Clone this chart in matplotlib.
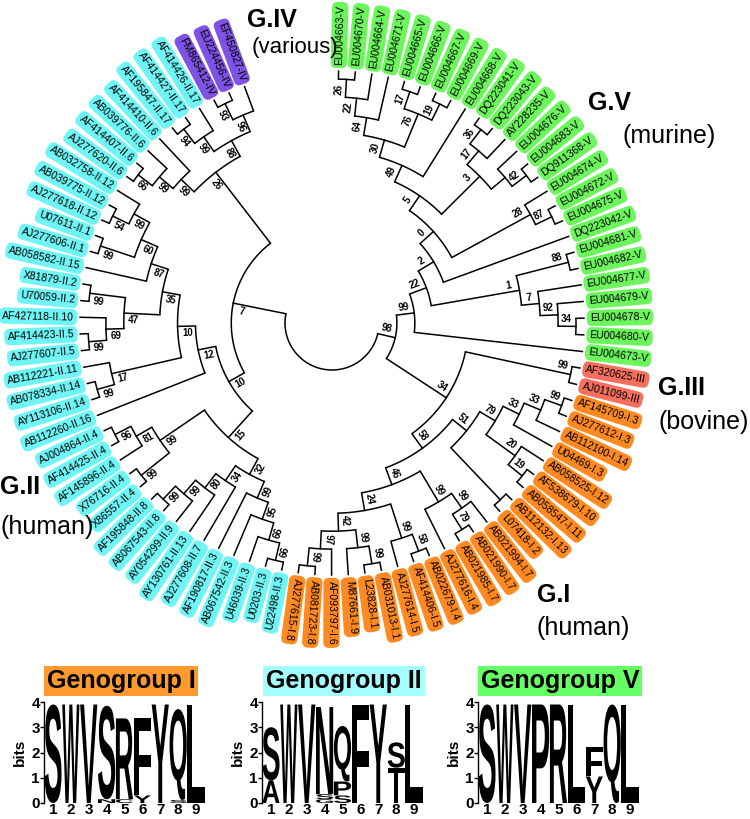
import matplotlib
matplotlib.use('Agg')
import matplotlib.pyplot as plt
import numpy as np
from matplotlib.textpath import TextPath
from matplotlib.patches import PathPatch
from matplotlib.font_manager import FontProperties
from matplotlib.transforms import Affine2D

plt.rcParams['font.family'] = ['Liberation Sans', 'DejaVu Sans']

# ---------------- tree data (newick pieces, clockwise from the top) ----------------
v_top = ("(((((EU004663-V,EU004670-V)26,EU004664-V)22,EU004671-V)64,"
         "((EU004665-V,EU004666-V)17,(EU004667-V,EU004669-V)19)76)30,EU004668-V)49")
v_mid = "(((DQ223041-V,DQ223043-V)36,AY228235-V)17,(EU004676-V,(EU004683-V,DQ911368-V)42))3"
v_28 = "(EU004674-V,(EU004672-V,EU004675-V)87)28"
v_1 = "((EU004681-V,EU004682-V)88,(EU004677-V,(EU004679-V,(EU004678-V,EU004680-V)34)92)7)1"
g3 = "(AF320625-III,AJ011099-III)99"
g1_top = ("((((AF145709-I.3,AJ277612-I.3)99,AB112100-I.14)33,U04469-I.3)33,"
          "(AB058525-I.12,(AF538679-I.10,AB058547-I.11)19)20)79")
g1_d = "((AB021994-I.7,(AB021990-I.7,AB021985-I.7)79)99,AJ277616-I.4)99"
g1_c = "((AB022679-I.4,AF414406-I.5)58,AJ277614-I.5)99"
g1_a = "(((AB031013-I.1,L23828-I.1)99,M87661-I.9)99,(AF093797-I.6,(AB081723-I.8,AJ277615-I.8)99)97)42"
g2_h = "((((U22498-II.3,U0203-II.3)66,U46039-II.3)66,AB067542-II.3)95,AF190817-II.3)99"
g2_i = "(AJ277608-II.7,(AY130761-II.13,(AY054299-II.9,(AB067543-II.8,AF195848-II.8)99)99)80)34"
g2_j = "((X86557-II.4,X76716-II.4)99,(AF145896-II.4,(AF414425-II.4,AJ004864-II.4)96)81)99"
g2_l = "((AY113106-II.14,AB078334-II.14)99,AB112221-II.11)17"
g2_m = "(((AJ277607-II.5,AF414423-II.5)99,AF427118-II.10)69,(U70059-II.2,X81879-II.2)99)47"
g2_q = ("(AB058582-II.15,((AJ277606-II.1,U07611-II.1)99,"
        "((AJ277618-II.12,AB039775-II.12)54,AB032758-II.12)99)60)87")
g2_s = ("((((AJ277620-II.6,AF414407-II.6)66,AB039776-II.6)99,AF414410-II.6)99,"
        "(((AF195847-II.17,AF414427-II.17)94,AF414426-II.17)99,"
        "((FM865412-IV,EU224456-IV)93,EF450827-IV)96)88)26")

gv = f"((((({v_top},{v_mid})5,{v_28})0,DQ223042-V)2,{v_1})22,EU004673-V)99"
g1 = f"(({g1_top},(AB112132-I.13,L07418-I.2))51,({g1_d},({g1_c},{g1_a})24)46)58"
right = f"({gv},({g3},{g1})34)98"
left = f"(((({g2_h},{g2_i})32,{g2_j})15,(AB112260-II.16,({g2_l},({g2_m},{g2_q})35)10)12)10,{g2_s})7"
newick = f"({right},{left})"

group_colors = {'V': '#6cf55c', 'III': '#f7705f', 'I': '#ff8a22', 'II': '#6ff5f5', 'IV': '#7d52e4'}
group_names = ['G.IV', 'G.V', 'G.III', 'G.II', 'G.I']
group_hosts = ['(various)', '(murine)', '(bovine)', '(human)', '(human)']
group_pos = [(247, 20), (588, 103), (658, 388), (0, 487), (537, 595)]
host_pos = [(252, 48), (622, 136), (659, 422), (0, 527), (537, 628)]
host_size = [16, 18, 18, 18, 18]

# ---------------- logo data (stacks bottom -> top, heights in bits) ----------------
logo_titles = ['Genogroup I', 'Genogroup II', 'Genogroup V']
logo_colors = ['#ff9a2e', '#a3ffff', '#66ff66']
logo_I = [[('S', 3.9)], [('W', 3.9)], [('V', 3.9)], [('N', 0.15), ('S', 3.7)],
          [('C', 0.15), ('R', 3.2)], [('Y', 0.3), ('F', 3.05)], [('Y', 3.9)],
          [('S', 0.12), ('Q', 3.6)], [('L', 3.9)]]
logo_II = [[('A', 0.9), ('S', 2.1)], [('W', 3.9)], [('V', 3.9)],
           [('G', 0.15), ('S', 0.2), ('N', 3.45)], [('S', 0.3), ('P', 0.55), ('Q', 2.2)],
           [('F', 3.9)], [('Y', 3.9)], [('T', 1.4), ('S', 1.0)], [('L', 3.9)]]
logo_V = [[('S', 3.9)], [('W', 3.9)], [('V', 3.9)], [('P', 3.9)], [('R', 3.9)],
          [('L', 3.9)], [('Y', 1.05), ('F', 1.15)], [('Q', 3.9)], [('L', 3.9)]]
logos = [logo_I, logo_II, logo_V]


def parse(s, i=0):
    if s[i] == '(':
        kids = []
        i += 1
        while True:
            kid, i = parse(s, i)
            kids.append(kid)
            if s[i] == ',':
                i += 1
                continue
            i += 1
            break
        j = i
        while j < len(s) and s[j] not in ',)':
            j += 1
        return {'children': kids, 'label': s[i:j]}, j
    j = i
    while j < len(s) and s[j] not in ',)':
        j += 1
    return {'name': s[i:j]}, j


def group_of(name):
    suf = name.split('-')[-1]
    if '.' in suf:
        return suf.split('.')[0]
    return suf


root, _ = parse(newick)

CX, CY = 332, 323
TH0, STEP = 88.5, 3.8
R_TIP, R_CHERRY, R_ROOT = 252, 244, 47
leaves = []


def layout(node):
    if 'name' in node:
        node['t'] = TH0 - STEP * len(leaves)
        node['h'] = 0
        leaves.append(node)
        return
    for c in node['children']:
        layout(c)
    node['h'] = max(c['h'] for c in node['children']) + 1
    node['t'] = (node['children'][0]['t'] + node['children'][-1]['t']) / 2


layout(root)
H = root['h']


def rad(node):
    if 'name' in node:
        return R_TIP
    return R_CHERRY - (R_CHERRY - R_ROOT) * (node['h'] - 1) / (H - 1)


def xy(r, t):
    a = np.radians(t)
    return CX + r * np.cos(a), CY - r * np.sin(a)


def readable(t):
    tn = (t + 180) % 360 - 180
    if -99.5 < tn <= 91:
        return tn, False
    return tn + 180, True


fig = plt.figure(figsize=(7.5, 8.19), dpi=100)
ax = fig.add_axes([0, 0, 1, 1])
ax.set_xlim(0, 750)
ax.set_ylim(819, 0)
ax.axis('off')

internal = []


def draw(node):
    if 'name' in node:
        return
    internal.append(node)
    r = rad(node)
    ts = np.linspace(node['children'][0]['t'], node['children'][-1]['t'], 60)
    px, py = xy(r, ts)
    ax.plot(px, py, color='black', lw=1.1, solid_capstyle='butt')
    for c in node['children']:
        x0, y0 = xy(r, c['t'])
        x1, y1 = xy(rad(c), c['t'])
        ax.plot([x0, x1], [y0, y1], color='black', lw=1.1)
        draw(c)


draw(root)

# leaf labels
for lf in leaves:
    rot, flip = readable(lf['t'])
    x, y = xy(R_TIP + 6, lf['t'])
    ax.text(x, y, lf['name'], fontsize=7.6, rotation=rot, rotation_mode='anchor',
            ha='right' if flip else 'left', va='center', color='black',
            bbox=dict(boxstyle='round,pad=0.3,rounding_size=0.55',
                      fc=group_colors[group_of(lf['name'])], ec='none'))

# bootstrap values
for nd in internal:
    if not nd['label']:
        continue
    t = nd['t']
    r = rad(nd) - 10
    a = np.radians(t)
    x, y = xy(r, t)
    x += -np.sin(a) * 7
    y += -np.cos(a) * 7
    rot, _ = readable(t)
    ax.text(x, y, nd['label'], fontsize=7, fontweight='bold', rotation=rot,
            rotation_mode='anchor', ha='center', va='center')

# group labels
for name, host, (gx, gy), (hx, hy), hs in zip(group_names, group_hosts, group_pos, host_pos, host_size):
    ax.text(gx, gy, name, fontsize=18, fontweight='bold', ha='left', va='center')
    ax.text(hx, hy, host, fontsize=hs, ha='left', va='center')

# ---------------- sequence logos ----------------
fp = FontProperties(family='Liberation Sans', weight='bold')
logo_left = [44, 262, 478]
logo_w = 161
title_cx = [121, 344, 560]


def letter(lax, ch, x, y0, h, w=0.96):
    tp = TextPath((0, 0), ch, size=1, prop=fp)
    bb = tp.get_extents()
    tr = Affine2D().translate(-bb.x0, -bb.y0).scale(w / bb.width, h / bb.height).translate(x - w / 2, y0)
    lax.add_patch(PathPatch(tr.transform_path(tp), fc='black', ec='none', lw=0))


for k, logo in enumerate(logos):
    ax.text(title_cx[k], 681, logo_titles[k], fontsize=18, fontweight='bold', ha='center', va='center',
            bbox=dict(boxstyle='square,pad=0.12', fc=logo_colors[k], ec='none'))
    lax = fig.add_axes([logo_left[k] / 750, (819 - 803) / 819, logo_w / 750, 101 / 819])
    lax.set_xlim(0.5, 9.5)
    lax.set_ylim(0, 4)
    for pos, stack in enumerate(logo, start=1):
        y0 = 0
        for ch, h in stack:
            letter(lax, ch, pos, y0, h)
            y0 += h
    for sp in ['top', 'right', 'bottom']:
        lax.spines[sp].set_visible(False)
    lax.spines['left'].set_linewidth(1.0)
    lax.set_xticks(range(1, 10))
    lax.set_xticklabels([str(i) for i in range(1, 10)], fontsize=11, fontweight='bold')
    lax.tick_params(axis='x', length=0, pad=0)
    lax.set_yticks(range(0, 5))
    lax.set_yticklabels([str(i) for i in range(0, 5)], fontsize=11, fontweight='bold')
    lax.tick_params(axis='y', length=3, width=1, pad=0)
    lax.set_ylabel('bits', fontsize=11, fontweight='bold', labelpad=3)
    lax.patch.set_visible(False)

fig.savefig('out.png', dpi=100)
